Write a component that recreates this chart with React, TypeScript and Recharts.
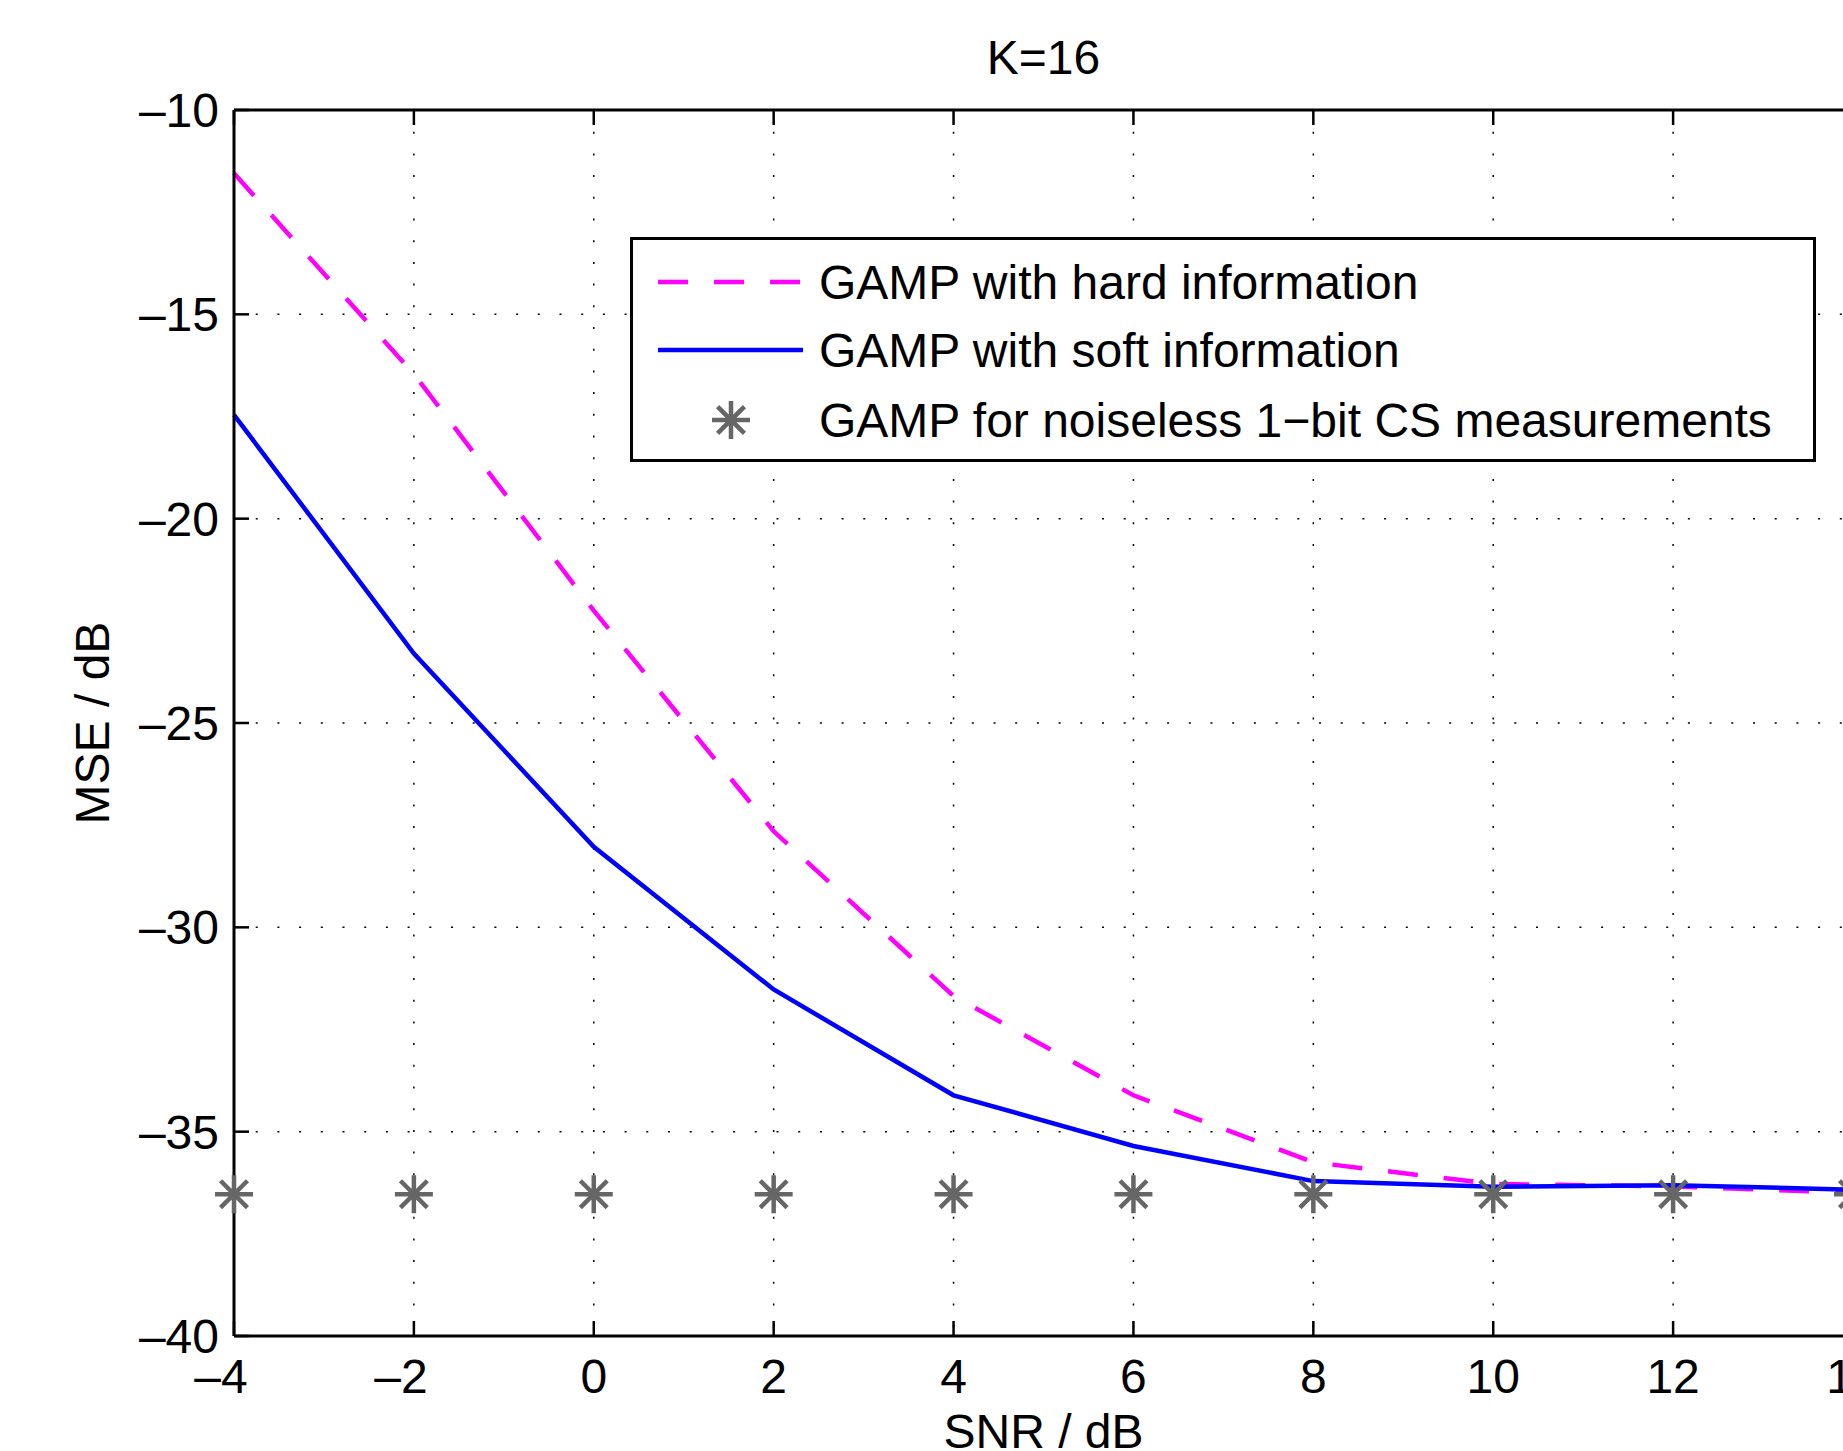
import React from "react";
import { LineChart, Line, XAxis, YAxis, CartesianGrid, Legend, Label } from "recharts";

const SNR = [-4, -2, 0, 2, 4, 6, 8, 10, 12, 14];
const HARD = [-11.55, -16.46, -22.25, -27.65, -31.68, -34.11, -35.75, -36.28, -36.34, -36.5];
const SOFT = [-17.46, -23.3, -28.03, -31.52, -34.11, -35.35, -36.21, -36.35, -36.31, -36.42];
const NOISELESS = [-36.53, -36.53, -36.53, -36.53, -36.53, -36.53, -36.53, -36.53, -36.53, -36.53];

const X_TICKS = [-4, -2, 0, 2, 4, 6, 8, 10, 12, 14];
const Y_TICKS = [-40, -35, -30, -25, -20, -15, -10];

const TITLE = "K=16";
const X_LABEL = "SNR / dB";
const Y_LABEL = "MSE / dB";
const LEGEND_LABELS = [
  "GAMP with hard information",
  "GAMP with soft information",
  "GAMP for noiseless 1\u2212bit CS measurements",
];

const FONT = "'Liberation Sans', Arial, Helvetica, sans-serif";
const FS = 48;
const MAGENTA = "#ff00ff";
const BLUE = "#0000ff";
const GRAY = "#666666";
const DASH = "30 26";
const LW = 4.5;

const data = SNR.map((snr, i) => ({
  snr,
  hard: HARD[i],
  soft: SOFT[i],
  noiseless: NOISELESS[i],
}));

const fmt = (v: number) => (v < 0 ? "\u2013" + Math.abs(v) : String(v));

function Star({ cx, cy, r = 19 }: { cx: number; cy: number; r?: number }) {
  const d = r * 0.7071;
  return (
    <path
      d={`M${cx - r},${cy}H${cx + r}M${cx},${cy - r}V${cy + r}M${cx - d},${cy - d}L${cx + d},${cy + d}M${cx - d},${cy + d}L${cx + d},${cy - d}`}
      stroke={GRAY}
      strokeWidth={4.5}
      fill="none"
    />
  );
}

function BottomTick({ x, y, payload }: any) {
  const v = payload.value;
  return (
    <g>
      <line x1={x} x2={x} y1={y} y2={y - 15} stroke="#000" strokeWidth={2.5} />
      <text x={x} y={y + 57} dx={v < 0 ? -13 : 0} textAnchor="middle" fontFamily={FONT} fontSize={FS} fill="#000">
        {fmt(v)}
      </text>
    </g>
  );
}

function LeftTick({ x, y, payload }: any) {
  return (
    <g>
      <line x1={x} x2={x + 15} y1={y} y2={y} stroke="#000" strokeWidth={2.5} />
      <text x={x - 15} y={y + 17} textAnchor="end" fontFamily={FONT} fontSize={FS} fill="#000">
        {fmt(payload.value)}
      </text>
    </g>
  );
}

function TopTick({ x, y }: any) {
  return <line x1={x} x2={x} y1={y} y2={y + 15} stroke="#000" strokeWidth={2.5} />;
}

function RightTick({ x, y }: any) {
  return <line x1={x} x2={x - 15} y1={y} y2={y} stroke="#000" strokeWidth={2.5} />;
}

function LegendBox() {
  const w = 1186;
  const h = 225;
  const rows = [45, 113, 183];
  return (
    <svg width={w} height={h} style={{ display: "block" }}>
      <rect x={1.5} y={1.5} width={w - 3} height={h - 3} fill="#fff" stroke="#000" strokeWidth={3} />
      <line x1={28} x2={173} y1={rows[0]} y2={rows[0]} stroke={MAGENTA} strokeWidth={LW} strokeDasharray={DASH} />
      <line x1={28} x2={173} y1={rows[1]} y2={rows[1]} stroke={BLUE} strokeWidth={LW} />
      <Star cx={101} cy={rows[2]} />
      {LEGEND_LABELS.map((t, i) => (
        <text key={t} x={189} y={rows[i] + 17} fontFamily={FONT} fontSize={FS} fill="#000">
          {t}
        </text>
      ))}
    </svg>
  );
}

export default function App() {
  const axisLine = { stroke: "#000", strokeWidth: 3 };
  return (
    <div
      style={{
        position: "fixed",
        left: 0,
        top: 0,
        width: 1843,
        height: 1451,
        overflow: "hidden",
        background: "#fff",
      }}
    >
      <LineChart width={1900} height={1451} data={data} margin={{ top: 100, right: 37, bottom: 55, left: 100 }}>
        <CartesianGrid stroke="#000" strokeWidth={1.5} strokeDasharray="2 19.7" />
        <XAxis
          dataKey="snr"
          type="number"
          domain={[-4, 14]}
          ticks={X_TICKS}
          interval={0}
          height={60}
          tickSize={0}
          tickMargin={0}
          axisLine={axisLine}
          tick={<BottomTick />}
        >
          <Label
            content={({ viewBox }: any) => (
              <text
                x={viewBox.x + viewBox.width / 2}
                y={viewBox.y + 112}
                textAnchor="middle"
                fontFamily={FONT}
                fontSize={FS}
                fill="#000"
              >
                {X_LABEL}
              </text>
            )}
          />
        </XAxis>
        <XAxis
          xAxisId="top"
          orientation="top"
          dataKey="snr"
          type="number"
          domain={[-4, 14]}
          ticks={X_TICKS}
          interval={0}
          height={10}
          tickSize={0}
          tickMargin={0}
          axisLine={axisLine}
          tick={<TopTick />}
        >
          <Label
            content={({ viewBox }: any) => (
              <text
                x={viewBox.x + viewBox.width / 2}
                y={74}
                textAnchor="middle"
                fontFamily={FONT}
                fontSize={FS}
                fill="#000"
              >
                {TITLE}
              </text>
            )}
          />
        </XAxis>
        <YAxis
          type="number"
          domain={[-40, -10]}
          ticks={Y_TICKS}
          interval={0}
          width={134}
          tickSize={0}
          tickMargin={0}
          axisLine={axisLine}
          tick={<LeftTick />}
        >
          <Label
            content={({ viewBox }: any) => {
              const cy = viewBox.y + viewBox.height / 2;
              return (
                <text
                  x={109}
                  y={cy}
                  transform={`rotate(-90 109 ${cy})`}
                  textAnchor="middle"
                  fontFamily={FONT}
                  fontSize={FS}
                  fill="#000"
                >
                  {Y_LABEL}
                </text>
              );
            }}
          />
        </YAxis>
        <YAxis
          yAxisId="right"
          orientation="right"
          type="number"
          domain={[-40, -10]}
          ticks={Y_TICKS}
          interval={0}
          width={10}
          tickSize={0}
          tickMargin={0}
          axisLine={axisLine}
          tick={<RightTick />}
        />
        <Line
          type="linear"
          dataKey="hard"
          stroke={MAGENTA}
          strokeWidth={LW}
          strokeDasharray={DASH}
          dot={false}
          isAnimationActive={false}
        />
        <Line type="linear" dataKey="soft" stroke={BLUE} strokeWidth={LW} dot={false} isAnimationActive={false} />
        <Line
          type="linear"
          dataKey="noiseless"
          stroke="none"
          isAnimationActive={false}
          dot={(p: any) => <Star key={`s-${p.index}`} cx={p.cx} cy={p.cy} />}
        />
        <Legend
          layout="vertical"
          align="center"
          verticalAlign="middle"
          wrapperStyle={{ position: "absolute", left: 630, top: 237, width: 1186, height: 225 }}
          content={() => <LegendBox />}
        />
      </LineChart>
    </div>
  );
}
